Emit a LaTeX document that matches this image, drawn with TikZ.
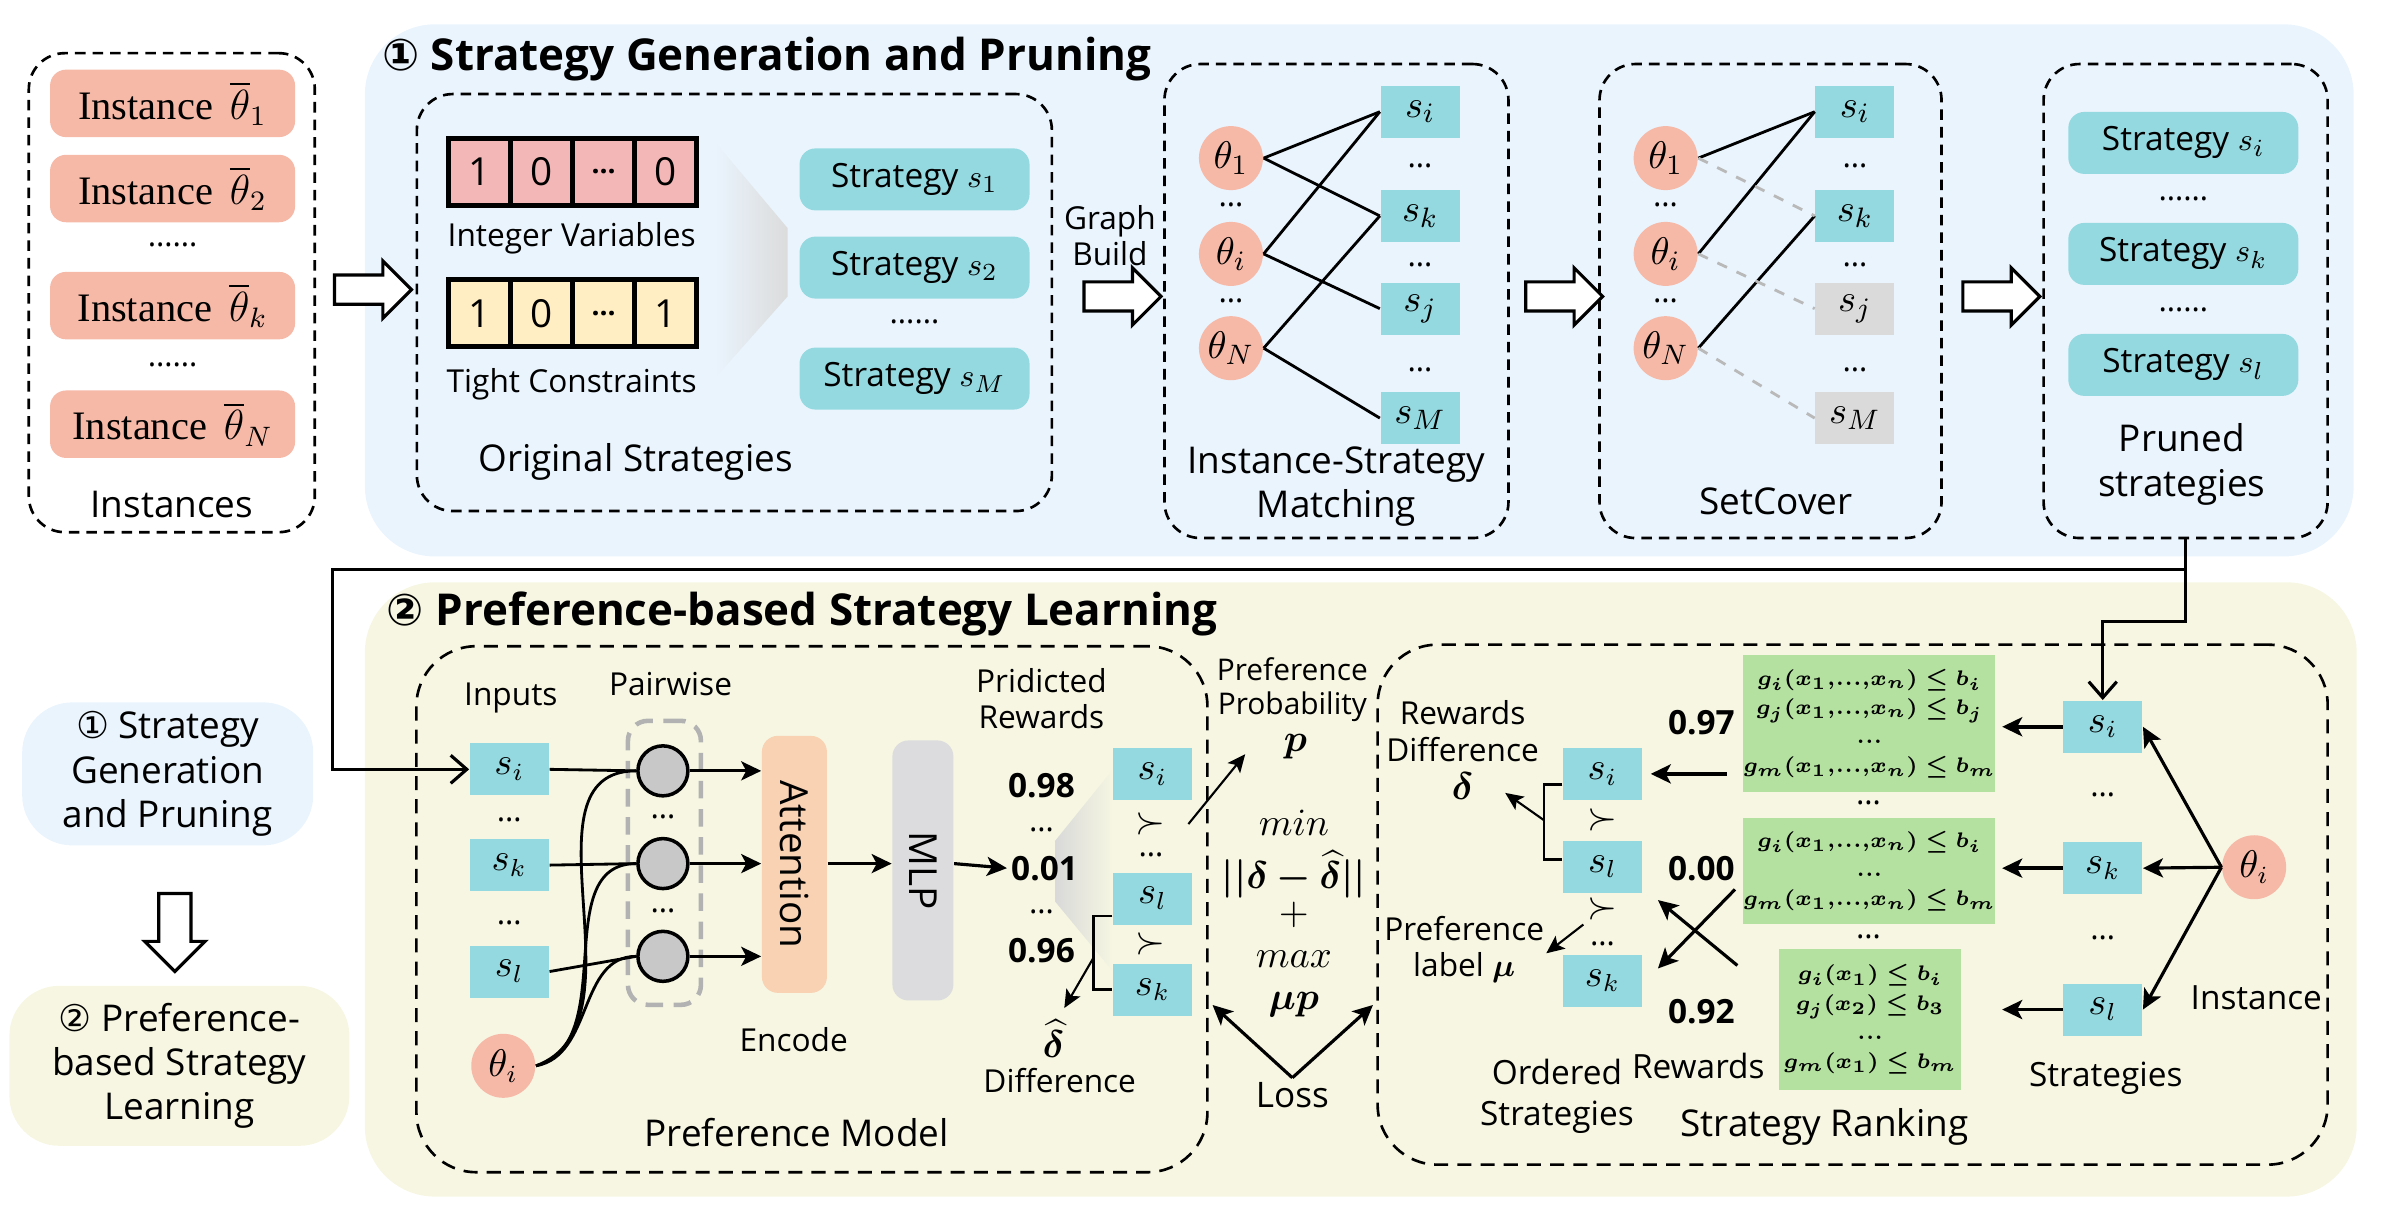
\documentclass[tikz,border=0pt]{standalone}
\usepackage{fontspec}
\usepackage{amsmath,bm}
\usepackage{graphicx}
\setmainfont{Open Sans}
\newfontfamily\instfont{Liberation Serif}
\newfontfamily\circfont{DejaVu Sans}
\usepackage{xcolor}
\usepackage{tikz}
\usetikzlibrary{positioning}
\usetikzlibrary{calc,chains,arrows.meta,shapes.arrows}

\definecolor{panelblue}{HTML}{EAF4FD}
\definecolor{panelyellow}{HTML}{F6F6E2}
\definecolor{salmon}{HTML}{F6B9A8}
\definecolor{stratcol}{HTML}{94D9E0}
\definecolor{pinkcell}{HTML}{F4B7B7}
\definecolor{yellowcell}{HTML}{FFEDC4}
\definecolor{greenbox}{HTML}{B4E1A0}
\definecolor{peach}{HTML}{F9D1B3}
\definecolor{mlpgray}{HTML}{DCDCDE}
\definecolor{prunegray}{HTML}{DADADA}
\definecolor{nodegray}{HTML}{C8C8C8}

\begin{document}
\begin{tikzpicture}[x=0.15204mm, y=-0.15204mm,
    lbl/.style={font=\fontsize{9}{10.5}\selectfont, align=center, inner sep=1pt},
    big/.style={font=\fontsize{10.5}{12.6}\selectfont, align=center, inner sep=1pt},
    title/.style={font=\bfseries\fontsize{12.5}{15}\selectfont, inner sep=0pt, anchor=west},
    num/.style={font=\bfseries\fontsize{9.5}{11}\selectfont, inner sep=1pt},
    mth/.style={font=\fontsize{10.5}{12}\selectfont, inner sep=1pt},
    dboxa/.style={draw, line width=0.75pt, dash pattern=on 3pt off 2pt, rounded corners=3.6mm, inner sep=0pt},
    dboxb/.style={draw, line width=0.75pt, dash pattern=on 4pt off 2.6pt, rounded corners=6mm, inner sep=0pt},
    inst/.style={fill=salmon, rounded corners=1.6mm, minimum width=24.5mm, minimum height=6.1mm, font=\instfont\fontsize{11.5}{13}\selectfont},
    strat/.style={fill=stratcol, rounded corners=1.6mm, minimum width=23mm, minimum height=6.2mm, font=\fontsize{9.5}{11}\selectfont},
    sbox/.style={fill=stratcol, minimum width=7.9mm, minimum height=5.2mm, inner sep=0pt, font=\fontsize{11}{12}\selectfont},
    theta/.style={circle, fill=salmon, minimum size=6.4mm, inner sep=0pt, font=\fontsize{11}{12}\selectfont},
    cell/.style={draw, line width=1.3pt, minimum width=6.2mm, minimum height=6.7mm, inner sep=0pt, outer sep=0pt, font=\fontsize{11}{12}\selectfont, on chain},
    hollow/.style={single arrow, draw, line width=0.9pt, fill=white, minimum height=7.7mm, minimum width=5.7mm, single arrow head extend=1.4mm, single arrow head indent=0pt, inner sep=1.3mm},
    pcirc/.style={circle, draw, line width=1pt, fill=nodegray, minimum size=5mm, inner sep=0pt},
    gbox/.style={fill=greenbox, inner sep=0pt, align=center, font=\fontsize{5.9}{8.3}\selectfont},
    edge/.style={line width=0.8pt},
    arr/.style={-{Stealth[length=2mm,width=1.9mm,inset=0.5mm]}, line width=0.9pt},
    thinarr/.style={-{Stealth[length=1.8mm,width=1.6mm,inset=0.4mm]}, line width=0.6pt},
    openarr/.style={-{Straight Barb[length=1.6mm,width=2.8mm]}, line width=0.9pt}]

  \useasboundingbox (0,0) rectangle (1568,795);
  % the two stage panels
  \fill[panelblue, rounded corners=7mm] (240,16) rectangle (1548,366);
  \fill[panelyellow, rounded corners=7mm] (240,383) rectangle (1550,787);
  \shade[left color=panelblue, right color=black!14] (470,93) -- (518,150) -- (518,195) -- (470,249) -- cycle;
  \shade[left color=black!15, right color=panelyellow] (694,553) -- (732,506) -- (732,639) -- (694,593) -- cycle;

  \node[title] (title1) at (251,39) {{\circfont ①} Strategy Generation and Pruning};
  \node[title] (title2) at (254,404) {{\circfont ②} Preference-based Strategy Learning};

  % instances
  \node[dboxa, minimum width=28.6mm, minimum height=47.9mm] (instbox) at (113,192.5) {};
  \node[inst] (inst1) at (113.5,68) {Instance\ \,$\overline{\theta}_1$};
  \node[inst] (inst2) at (113.5,124) {Instance\ \,$\overline{\theta}_2$};
  \node[lbl] (idots1) at (113.5,161) {……};
  \node[inst] (inst3) at (113.5,201) {Instance\ \,$\overline{\theta}_k$};
  \node[lbl] (idots2) at (113.5,240) {……};
  \node[inst] (inst4) at (113.5,279) {Instance\ \,$\overline{\theta}_N$};
  \node[big] (instlbl) at (113,332) {Instances};
  \node[hollow] (harr1) at (240.5,190.5) {};

  % original strategies
  \node[dboxa, minimum width=63.5mm, minimum height=41.7mm] (origbox) at (483,199) {};
  \begin{scope}[start chain=going right, node distance=0pt]
    \node[cell, fill=pinkcell] (iv1) at (315.5,113) {1};
    \node[cell, fill=pinkcell] (iv2) {0};
    \node[cell, fill=pinkcell] (iv3) {\fontsize{8}{8}\selectfont\bfseries …};
    \node[cell, fill=pinkcell] (iv4) {0};
  \end{scope}
  \begin{scope}[start chain=going right, node distance=0pt]
    \node[cell, fill=yellowcell] (tc1) at (315.5,206) {1};
    \node[cell, fill=yellowcell] (tc2) {0};
    \node[cell, fill=yellowcell] (tc3) {\fontsize{8}{8}\selectfont\bfseries …};
    \node[cell, fill=yellowcell] (tc4) {1};
  \end{scope}
  \node[lbl] (ivlbl) at (376,157) {Integer Variables};
  \node[lbl] (tclbl) at (376,253) {Tight Constraints};
  \node[strat] (os1) at (601.5,118) {Strategy $s_1$};
  \node[strat] (os2) at (601.5,176) {Strategy $s_2$};
  \node[lbl] (osdots) at (601.5,212) {……};
  \node[strat] (os3) at (601.5,249) {Strategy $s_M$};
  \node[big] (origlbl) at (418,304) {Original Strategies};

  \node[lbl] (gblbl) at (730,155) {Graph\\Build};
  \node[hollow] (harr2) at (733.5,195) {};

  % instance-strategy matching
  \node[dboxa, minimum width=34.4mm, minimum height=47.4mm] (ismbox) at (879,198) {};
  \node[theta] (mt1) at (809.6,104) {$\theta_1$};
  \node[lbl] (mtd1) at (809.6,135) {…};
  \node[theta] (mti) at (809.6,167) {$\theta_i$};
  \node[lbl] (mtd2) at (809.6,198) {…};
  \node[theta] (mtn) at (809.6,229) {$\theta_N$};
  \node[sbox] (ms1) at (934,73.5) {$s_i$};
  \node[lbl] (msd1) at (934,109) {…};
  \node[sbox] (ms2) at (934,142) {$s_k$};
  \node[lbl] (msd2) at (934,174) {…};
  \node[sbox] (ms3) at (934,203) {$s_j$};
  \node[lbl] (msd3) at (934,243) {…};
  \node[sbox] (ms4) at (934,275) {$s_M$};
  \draw[edge] (mt1.east) -- (ms1.west);
  \draw[edge] (mt1.east) -- (ms2.west);
  \draw[edge] (mti.east) -- (ms1.west);
  \draw[edge] (mti.east) -- (ms3.west);
  \draw[edge] (mtn.east) -- (ms2.west);
  \draw[edge] (mtn.east) -- (ms4.west);
  \node[big] (ismlbl) at (879,320) {Instance-Strategy\\Matching};
  \node[hollow] (harr3) at (1024,195) {};

  % set cover
  \node[dboxa, minimum width=34.2mm, minimum height=47.4mm] (scbox) at (1164.5,198) {};
  \node[theta] (ct1) at (1095.5,104) {$\theta_1$};
  \node[lbl] (ctd1) at (1095.5,135) {…};
  \node[theta] (cti) at (1095.5,167) {$\theta_i$};
  \node[lbl] (ctd2) at (1095.5,198) {…};
  \node[theta] (ctn) at (1095.5,229) {$\theta_N$};
  \node[sbox] (cs1) at (1220,73.5) {$s_i$};
  \node[lbl] (csd1) at (1220,109) {…};
  \node[sbox] (cs2) at (1220,142) {$s_k$};
  \node[lbl] (csd2) at (1220,174) {…};
  \node[sbox, fill=prunegray] (cs3) at (1220,203) {$s_j$};
  \node[lbl] (csd3) at (1220,243) {…};
  \node[sbox, fill=prunegray] (cs4) at (1220,275) {$s_M$};
  \draw[edge] (ct1.east) -- (cs1.west);
  \draw[edge] (cti.east) -- (cs1.west);
  \draw[edge] (ctn.east) -- (cs2.west);
  \draw[edge, gray!55, dashed] (ct1.east) -- (cs2.west);
  \draw[edge, gray!55, dashed] (cti.east) -- (cs3.west);
  \draw[edge, gray!55, dashed] (ctn.east) -- (cs4.west);
  \node[big] (sclbl) at (1168,330) {SetCover};
  \node[hollow] (harr4) at (1311.5,195) {};

  % pruned strategies
  \node[dboxa, minimum width=28.4mm, minimum height=47.4mm] (prunedbox) at (1437.5,198) {};
  \node[strat] (ps1) at (1436,94) {Strategy $s_i$};
  \node[lbl] (psd1) at (1436,131) {……};
  \node[strat] (ps2) at (1436,167) {Strategy $s_k$};
  \node[lbl] (psd2) at (1436,204) {……};
  \node[strat] (ps3) at (1436,240) {Strategy $s_l$};
  \node[big] (prlbl) at (1435,305.5) {Pruned\\strategies};

  % legend on the left
  \node[big, fill=panelblue, rounded corners=5mm, minimum width=29.1mm, minimum height=14.3mm] (leg1) at (110.3,509) {{\circfont ①} Strategy\\Generation\\and Pruning};
  \node[hollow, shape border rotate=270, minimum height=7.8mm, minimum width=5.8mm, inner sep=1.45mm] (harr5) at (115,608) {};
  \node[big, fill=panelyellow, rounded corners=5mm, minimum width=34mm, minimum height=16mm] (leg2) at (118,701) {{\circfont ②} Preference-\\based Strategy\\Learning};

  % preference model
  \node[dboxb, minimum width=79.1mm, minimum height=52.6mm] (pmbox) at (534,598) {};
  \node[lbl] (inlbl) at (336,459) {Inputs};
  \node[lbl] (pwlbl) at (441,450) {Pairwise};
  \node[sbox, font=\fontsize{10.5}{12}\selectfont] (in1) at (335,506) {$s_i$};
  \node[lbl] (ind1) at (335,539) {…};
  \node[sbox, font=\fontsize{10.5}{12}\selectfont] (in2) at (335,569) {$s_k$};
  \node[lbl] (ind2) at (335,607) {…};
  \node[sbox, font=\fontsize{10.5}{12}\selectfont] (in3) at (335,639) {$s_l$};
  \node[theta, font=\fontsize{10.5}{12}\selectfont] (inth) at (331,701) {$\theta_i$};
  \node[draw=gray!60, line width=1.3pt, dash pattern=on 5pt off 3pt, rounded corners=2mm, minimum width=7.3mm, minimum height=28.4mm] (pairbox) at (437,567.5) {};
  \node[pcirc] (pc1) at (436,507) {};
  \node[lbl] (pcd1) at (436,537) {…};
  \node[pcirc] (pc2) at (436,568) {};
  \node[lbl] (pcd2) at (436,599) {…};
  \node[pcirc] (pc3) at (436,629) {};
  \draw[edge] (in1.east) -- (pc1.west);
  \draw[edge] (in2.east) -- (pc2.west);
  \draw[edge] (in3.east) -- (pc3.west);
  \draw[edge] (inth.east) to[out=20, in=180] (pc1.west);
  \draw[edge] (inth.east) to[out=15, in=180] (pc2.west);
  \draw[edge] (inth.east) to[out=10, in=180] (pc3.west);
  \node[fill=peach, rounded corners=1.6mm, minimum width=6.5mm, minimum height=25.7mm, inner sep=0pt, font=\fontsize{11}{12}\selectfont] (att) at (522.5,568.5) {\rotatebox{-90}{Attention}};
  \node[fill=mlpgray, rounded corners=1.6mm, minimum width=6.1mm, minimum height=26mm, inner sep=0pt, font=\fontsize{11}{12}\selectfont] (mlp) at (607,572.5) {\rotatebox{-90}{MLP}};
  \draw[arr] (pc1.east) -- (pc1 -| att.west);
  \draw[arr] (pc2.east) -- (pc2 -| att.west);
  \draw[arr] (pc3.east) -- (pc3 -| att.west);
  \draw[arr] (pc2 -| att.east) -- (pc2 -| mlp.west);
  \node[lbl] (enclbl) at (522,684) {Encode};
  \node[lbl] (predlbl) at (685,459.5) {Pridicted\\Rewards};
  \node[num] (r1) at (685,517) {0.98};
  \node[lbl] (rd1) at (685,546) {…};
  \node[num] (r2) at (687,571) {0.01};
  \node[lbl] (rd2) at (685,600) {…};
  \node[num] (r3) at (685,625) {0.96};
  \draw[arr] (pc2 -| mlp.east) -- (r2.west);
  \node[sbox, font=\fontsize{10.5}{12}\selectfont] (pr1) at (758,509) {$s_i$};
  \node[mth] (pg1) at (757,542) {$\succ$};
  \node[lbl] (prd) at (757,562) {…};
  \node[sbox, font=\fontsize{10.5}{12}\selectfont] (pr2) at (758,591) {$s_l$};
  \node[mth] (pg2) at (757,621) {$\succ$};
  \node[sbox, font=\fontsize{10.5}{12}\selectfont] (pr3) at (758,651) {$s_k$};
  \draw[edge] ([yshift=-1.75mm]pr2.west) -- ++(-12.4,0) |- (pr3.west);
  \coordinate (pbrk) at ($(pr3.west)+(-12.4,-21)$);
  \node[mth] (dhat) at (693,683) {$\bm{\widehat{\delta}}$};
  \coordinate (dhtip) at (700,663);
  \draw[thinarr] (pbrk) -- (dhtip);
  \node[lbl] (difflbl) at (697,711) {Difference};
  \node[big] (pmlbl) at (524,745) {Preference Model};

  % loss between the two models
  \node[lbl, font=\fontsize{8.5}{9.5}\selectfont] (pplbl) at (850,453.5) {Preference\\Probability};
  \node[mth, font=\fontsize{11}{12}\selectfont] (pp) at (852,491) {$\bm{p}$};
  \coordinate (ptip) at (819,496);
  \draw[thinarr] ($(pg1.east)+(12,0)$) -- (ptip);
  \node[mth] (lmin) at (851,541) {$min$};
  \node[mth] (lnorm) at (851,575) {$\bm{||\delta-\widehat{\delta}||}$};
  \node[mth] (lplus) at (851,602) {$+$};
  \node[mth] (lmax) at (851,631) {$max$};
  \node[mth, font=\fontsize{11}{12}\selectfont] (lmup) at (851,661) {$\bm{\mu p}$};
  \node[big, font=\fontsize{10}{12}\selectfont] (loss) at (850,720) {Loss};
  \coordinate (losl) at (797.5,661);
  \coordinate (losr) at (903,661);
  \draw[arr] (loss.north) -- (losl);
  \draw[arr] (loss.north) -- (losr);

  % strategy ranking
  \node[dboxb, minimum width=95mm, minimum height=52mm] (rankbox) at (1218.5,595) {};
  \node[lbl] (rdlbl) at (962,481) {Rewards\\Difference};
  \node[mth, font=\fontsize{11}{12}\selectfont] (delta) at (962,517) {$\bm{\delta}$};
  \node[lbl] (pllbl) at (963,624.5) {Preference\\label $\bm{\mu}$};
  \node[sbox, font=\fontsize{10.5}{12}\selectfont] (qs1) at (1054,509) {$s_i$};
  \node[mth] (qg1) at (1054,539) {$\succ$};
  \node[sbox, font=\fontsize{10.5}{12}\selectfont] (qs2) at (1054,570) {$s_l$};
  \node[mth] (qg2) at (1054,598) {$\succ$};
  \node[lbl] (qd) at (1054,621) {…};
  \node[sbox, font=\fontsize{10.5}{12}\selectfont] (qs3) at (1054,645) {$s_k$};
  \draw[edge] ([yshift=-1.05mm]qs1.west) -- ++(-12,0) |- ([yshift=0.75mm]qs2.west);
  \coordinate (qbrk) at ($(qs1.west)!0.5!(qs2.west)+(-12,0)$);
  \coordinate (dtip) at (990,521.5);
  \coordinate (mutip) at (1017,627);
  \draw[thinarr] (qbrk) -- (dtip);
  \draw[thinarr] (qg2.south west) -- (mutip);
  \node[lbl, font=\fontsize{9.5}{11.5}\selectfont] (ordlbl) at (1024,721) {Ordered\\Strategies};

  \node[num] (w1) at (1119,475) {0.97};
  \node[num] (w2) at (1119,571.5) {0.00};
  \node[num] (w3) at (1119,665.5) {0.92};
  \node[lbl, font=\fontsize{9.5}{11}\selectfont] (rwlbl) at (1117,701) {Rewards};

  \node[gbox, minimum width=24.8mm, minimum height=13.7mm] (g1) at (1229.5,476) {$\bm{g_i(x_1{,}...{,}x_n)\le b_i}$\\$\bm{g_j(x_1{,}...{,}x_n)\le b_j}$\\$\bm{...}$\\$\bm{g_m(x_1{,}...{,}x_n)\le b_m}$};
  \node[lbl] (gd1) at (1229,528) {…};
  \node[gbox, minimum width=24.8mm, minimum height=10.6mm] (g2) at (1229.5,573) {$\bm{g_i(x_1{,}...{,}x_n)\le b_i}$\\$\bm{...}$\\$\bm{g_m(x_1{,}...{,}x_n)\le b_m}$};
  \node[lbl] (gd2) at (1229,616) {…};
  \node[gbox, minimum width=18.2mm, minimum height=14.1mm] (g3) at (1230,670.5) {$\bm{g_i(x_1)\le b_i}$\\$\bm{g_j(x_2)\le b_3}$\\$\bm{...}$\\$\bm{g_m(x_1)\le b_m}$};
  \draw[arr, line width=1.1pt, shorten <=1.6mm, shorten >=0.8mm] (g1.west |- qs1) -- (qs1.east);
  \draw[arr] ($(g2.west)+(-5,12)$) -- ($(qs3.east)+(10,-8)$);
  \draw[arr] ($(g3.west)+(-27,-35.5)$) -- ($(qs2.east)+(10,22)$);

  \node[sbox, font=\fontsize{10.5}{12}\selectfont] (ts1) at (1383,478) {$s_i$};
  \node[lbl] (tsd1) at (1383,523) {…};
  \node[sbox, font=\fontsize{10.5}{12}\selectfont] (ts2) at (1383,571) {$s_k$};
  \node[lbl] (tsd2) at (1383,617) {…};
  \node[sbox, font=\fontsize{10.5}{12}\selectfont] (ts3) at (1383,664) {$s_l$};
  \node[theta, font=\fontsize{10.5}{12}\selectfont] (rth) at (1482.6,570.4) {$\theta_i$};
  \draw[arr, line width=1.1pt, shorten >=0.6mm] (ts1.west) -- (g1.east |- ts1);
  \draw[arr, line width=1.1pt, shorten >=0.6mm] (ts2.west) -- (g1.east |- ts2);
  \draw[arr, line width=1.1pt, shorten >=0.6mm] (ts3.west) -- (g1.east |- ts3);
  \draw[arr] (rth.west) -- (ts1.east);
  \draw[arr] (rth.west) -- (ts2.east);
  \draw[arr] (rth.west) -- (ts3.east);
  \node[lbl, font=\fontsize{9.5}{11}\selectfont] (rinlbl) at (1484,656) {Instance};
  \node[lbl, font=\fontsize{9.5}{11}\selectfont] (rslbl) at (1385,709) {Strategies};
  \node[big] (srlbl) at (1200,741) {Strategy Ranking};

  % pruned strategies feed both models
  \draw[openarr] (prunedbox.south) -- ++(0,19.7) -| ($(in1.west)+(-90,0)$) -- (in1.west);
  \draw[openarr] (prunedbox.south) -- ++(0,53.8) -| (ts1.north);
\end{tikzpicture}
\end{document}
